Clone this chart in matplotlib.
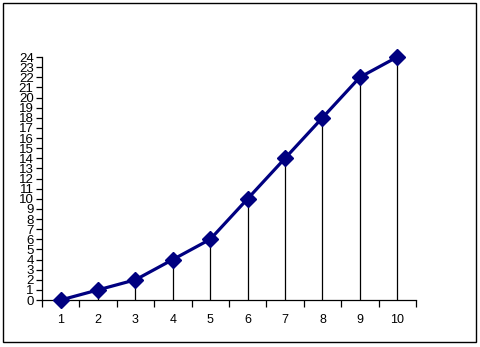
import matplotlib.pyplot as plt
from matplotlib.patches import Rectangle

# Chart data
categories = ["1", "2", "3", "4", "5", "6", "7", "8", "9", "10"]
values = [0, 1, 2, 4, 6, 10, 14, 18, 22, 24]
y_ticks = list(range(0, 25))

plt.rcParams['font.family'] = ['Liberation Sans', 'DejaVu Sans']

fig = plt.figure(figsize=(4.8, 3.47), dpi=100)
fig.patches.append(Rectangle((3 / 480, 5 / 347), 473 / 480, 339 / 347,
                             transform=fig.transFigure, fill=False,
                             edgecolor='black', linewidth=1))
ax = fig.add_axes([0.0875, 0.1354, 0.779, 0.7003])

x = list(range(1, len(categories) + 1))

# drop lines from each point down to the axis
ax.vlines(x, 0, values, colors='black', linewidth=0.9, zorder=1)
ax.plot(x, values, color='#000080', linewidth=2.3, marker='D',
        markersize=8, clip_on=False, zorder=3)

ax.set_xlim(0.5, len(categories) + 0.5)
ax.set_ylim(0, 24)

# category ticks sit between categories, labels in the middle
ax.set_xticks([i + 0.5 for i in range(0, len(categories) + 1)])
ax.set_xticklabels([])
ax.set_xticks(x, minor=True)
ax.set_xticklabels(categories, minor=True, fontsize=9)
ax.tick_params(axis='x', which='major', direction='out', length=5, width=0.9)
ax.tick_params(axis='x', which='minor', length=0, pad=10)

ax.set_yticks(y_ticks)
ax.set_yticklabels([str(v) for v in y_ticks], fontsize=9.5)
ax.tick_params(axis='y', direction='out', length=4, width=0.9, pad=2)

for side in ['top', 'right']:
    ax.spines[side].set_visible(False)
for side in ['left', 'bottom']:
    ax.spines[side].set_linewidth(0.9)

fig.savefig('out.png', dpi=100)
